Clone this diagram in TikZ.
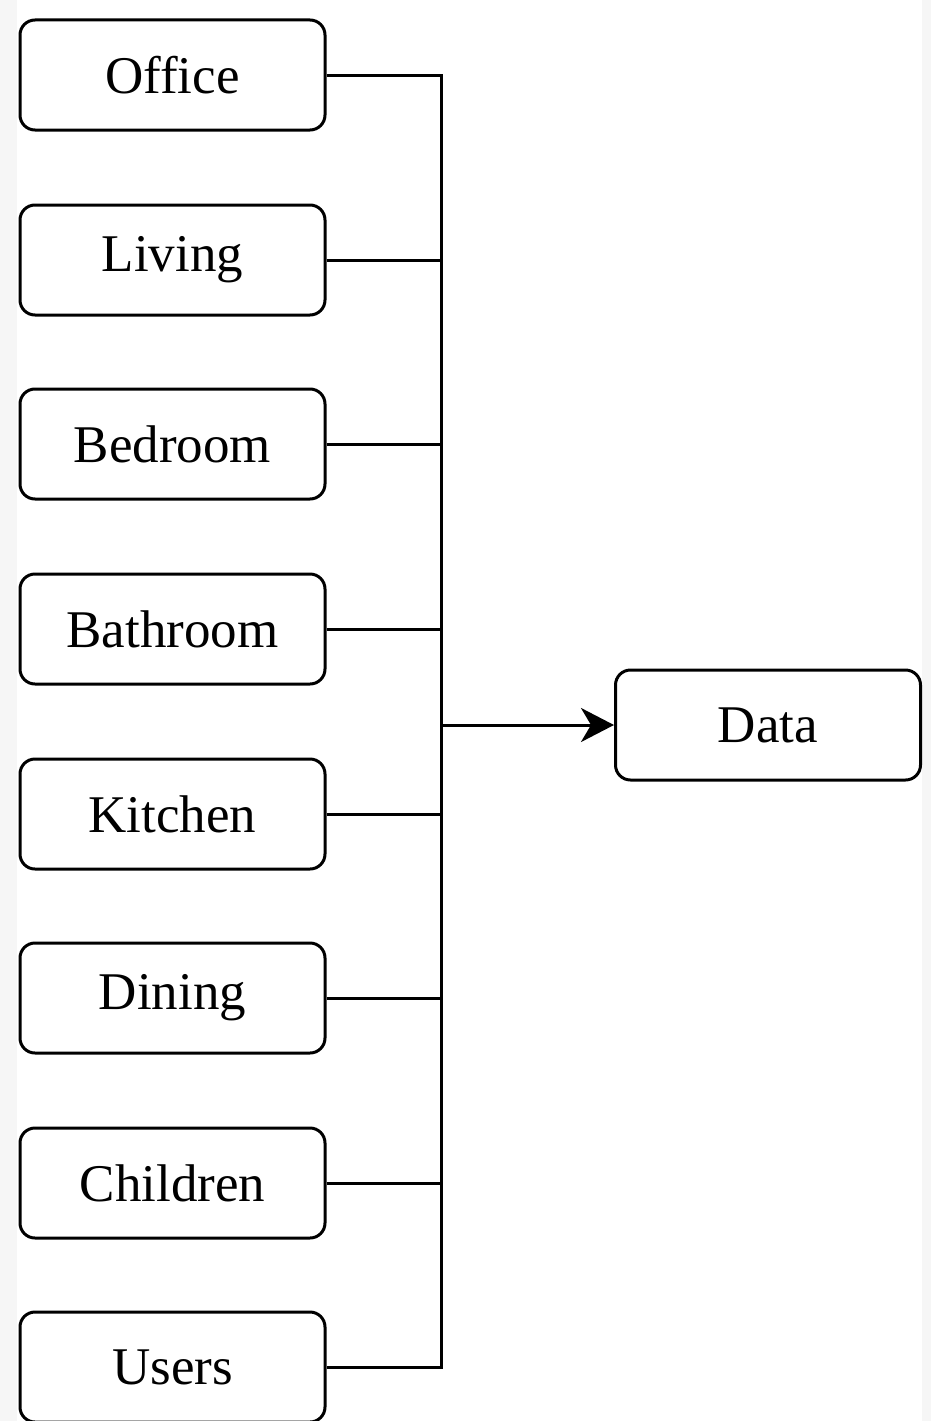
\documentclass[tikz,border=0pt]{standalone}
\usepackage{fontspec}
\setmainfont{Liberation Serif}
\usetikzlibrary{arrows.meta}
\definecolor{pagegray}{HTML}{F6F6F6}
\begin{document}
\begin{tikzpicture}[x=1pt,y=-1pt,
  room/.style={draw=black, line width=3pt, rounded corners=15pt, fill=white,
    minimum width=305pt, minimum height=110pt, inner sep=0pt,
    font=\fontsize{53}{60}\selectfont},
  wire/.style={draw=black, line width=3pt}]
  % page background with grey side strips
  \fill[pagegray] (0,0) rectangle (931,1421);
  \fill[white] (17,0) rectangle (922,1421);
  \useasboundingbox (0,0) rectangle (931,1421);

  % source boxes
  \node[room] (office)   at (172.5,75)   {Office};
  \node[room] (living)   at (172.5,260)  {Living};
  \node[room] (bedroom)  at (172.5,444)  {Bedroom};
  \node[room] (bathroom) at (172.5,629)  {Bathroom};
  \node[room] (kitchen)  at (172.5,814)  {Kitchen};
  \node[room] (dining)   at (172.5,998)  {Dining};
  \node[room] (children) at (172.5,1183) {Children};
  \node[room] (users)    at (172.5,1367) {Users};

  % target box
  \node[room] (data) at (768,725) {Data};

  % collecting bus
  \draw[wire] (office.east) -- ++(115,0) |- (users.east);
  \foreach \n in {living,bedroom,bathroom,kitchen,dining,children}
    \draw[wire] (\n.east) -- ++(115,0);
  \coordinate (bus) at (440,725);
  \draw[wire, -{Stealth[length=33pt,width=34pt,inset=10pt]}] (bus) -- (data.west);
\end{tikzpicture}
\end{document}
